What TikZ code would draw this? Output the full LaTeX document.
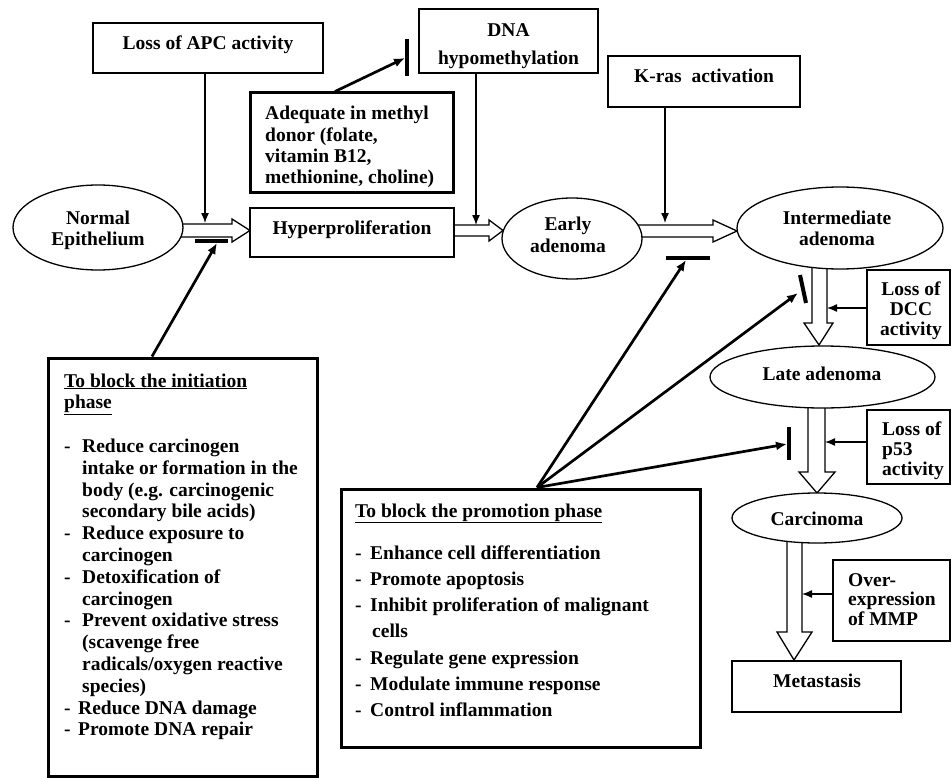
\documentclass[tikz,border=0pt]{standalone}
\usepackage{fontspec}
\setmainfont{Liberation Serif}
\usetikzlibrary{arrows.meta,backgrounds,shapes.geometric}
\newcommand{\lbl}[2]{\parbox[t]{#1}{#2}}
\begin{document}
\begin{tikzpicture}[x=1pt,y=-1pt,
  every node/.style={font=\fontsize{19.5}{21.8}\selectfont\bfseries},
  plainbox/.style={draw, line width=1.4pt, fill=white, inner sep=0},
  heavybox/.style={draw, line width=3pt, fill=white, inner sep=0},
  oval/.style={ellipse, draw, line width=1.3pt, fill=white, inner sep=0},
  txt/.style={inner sep=0, anchor=base, yshift=-2.5pt},
  ltxt/.style={inner sep=0, anchor=base west, yshift=-2.5pt},
  hollow/.style={draw, line width=1.3pt, fill=white, line join=miter},
  thinarrow/.style={line width=1.3pt, -{Latex[length=10pt,width=8pt]}},
  thickarrow/.style={line width=2.7pt, -{Latex[length=11pt,width=9pt]}},
  tbar/.style={line width=4pt}
]
\useasboundingbox (0,0) rectangle (952,778);

% boxes
\node[plainbox, minimum width=230, minimum height=50] (apc) at (208,48) {};
\node[txt] (apcL) at (208,47.5) {Loss of APC activity};

\node[plainbox, minimum width=179, minimum height=64] (dna) at (508.5,41) {};
\node[txt] (dnaL) at (508.5,34.5) {\lbl{180pt}{\centering\baselineskip=28pt DNA\\hypomethylation}};

\node[plainbox, minimum width=192, minimum height=51] (kras) at (704,81.5) {};
\node[txt] (krasL) at (704,80.5) {K-ras\ \ activation};

\node[heavybox, minimum width=203, minimum height=99] (adeq) at (351.5,142.5) {};
\node[ltxt] (adeqL) at (265,117.5) {\lbl{190pt}{\raggedright\baselineskip=21.3pt Adequate in methyl\\donor (folate,\\vitamin B12,\\methionine, choline)}};

\node[oval, minimum width=170, minimum height=85] (normal) at (98,227.5) {};
\node[txt] (normalL) at (98,221.5) {\lbl{160pt}{\centering\baselineskip=21pt Normal\\Epithelium}};

\node[plainbox, minimum width=204, minimum height=49] (hyper) at (352,232.5) {};
\node[txt] (hyperL) at (352,231.5) {Hyperproliferation};

\node[oval, minimum width=140, minimum height=81] (early) at (572,238.5) {};
\node[txt] (earlyL) at (568,227.5) {\lbl{130pt}{\centering\baselineskip=22pt Early\\adenoma}};

\node[oval, minimum width=206, minimum height=82] (inter) at (840,228) {};
\node[txt] (interL) at (837,221.5) {\lbl{190pt}{\centering\baselineskip=21pt Intermediate\\adenoma}};

\node[oval, minimum width=225, minimum height=62] (late) at (822.5,377) {};
\node[txt] (lateL) at (822,377.5) {Late adenoma};

\node[oval, minimum width=170, minimum height=50] (carc) at (817,518) {};
\node[txt] (carcL) at (817,522.5) {Carcinoma};

\node[plainbox, minimum width=83, minimum height=75] (dcc) at (908.5,307.5) {};
\node[txt] (dccL) at (911,292.5) {\lbl{80pt}{\centering\baselineskip=20pt Loss of\\DCC\\activity}};

\node[plainbox, minimum width=83, minimum height=74] (p53) at (908.5,447) {};
\node[ltxt] (p53L) at (882,432.5) {\lbl{70pt}{\raggedright\baselineskip=20pt Loss of\\p53\\activity}};

\node[plainbox, minimum width=117, minimum height=81] (mmp) at (891.5,600.5) {};
\node[ltxt] (mmpL) at (848,583.5) {\lbl{100pt}{\raggedright\baselineskip=19.5pt Over-\\expression\\of MMP}};

\node[plainbox, minimum width=169, minimum height=51] (meta) at (816.5,686.5) {};
\node[txt] (metaL) at (817,684.5) {Metastasis};

\node[heavybox, minimum width=269, minimum height=418] (init) at (182.5,567) {};
\node[ltxt] (initL) at (64,384.5) {\lbl{250pt}{\raggedright\baselineskip=21.8pt
\underline{To block the initiation}\\
\underline{phase}\\[21.8pt]
\makebox[18pt][l]{-}Reduce carcinogen\\
\hspace*{18pt}intake or formation in the\\
\hspace*{18pt}body (e.g. carcinogenic\\
\hspace*{18pt}secondary bile acids)\\
\makebox[18pt][l]{-}Reduce exposure to\\
\hspace*{18pt}carcinogen\\
\makebox[18pt][l]{-}Detoxification of\\
\hspace*{18pt}carcinogen\\
\makebox[18pt][l]{-}Prevent oxidative stress\\
\hspace*{18pt}(scavenge free\\
\hspace*{18pt}radicals/oxygen reactive\\
\hspace*{18pt}species)\\
\makebox[14pt][l]{-}Reduce DNA damage\\
\makebox[14pt][l]{-}Promote DNA repair}};

\node[heavybox, minimum width=359, minimum height=258] (promo) at (520.5,618) {};
\node[ltxt] (promoL) at (355,514.5) {\lbl{340pt}{\raggedright\baselineskip=26.3pt
\underline{To block the promotion phase}\\[15.7pt]
\makebox[15pt][l]{-}Enhance cell differentiation\\
\makebox[15pt][l]{-}Promote apoptosis\\
\makebox[15pt][l]{-}Inhibit proliferation of malignant\\
\hspace*{17pt}cells\\
\makebox[15pt][l]{-}Regulate gene expression\\
\makebox[15pt][l]{-}Modulate immune response\\
\makebox[15pt][l]{-}Control inflammation}};

% hollow block arrows
\begin{scope}[on background layer]
\fill[white] (0,0) rectangle (952,778);
\draw[hollow] (175,224) -- (232,224) -- (232,219) -- (250,230.5) -- (232,242) -- (232,237) -- (175,237) -- cycle;
\draw[hollow] (450,225) -- (489,225) -- (489,220) -- (503,230.5) -- (489,241) -- (489,236) -- (450,236) -- cycle;
\draw[hollow] (636,225) -- (713,225) -- (713,220) -- (737,231) -- (713,242) -- (713,237) -- (636,237) -- cycle;
\draw[hollow] (812,262) -- (812,323) -- (804,323) -- (819,345) -- (833,323) -- (827,323) -- (827,262) -- cycle;
\draw[hollow] (808,400) -- (808,472) -- (799,472) -- (817,493) -- (835,472) -- (825,472) -- (825,400) -- cycle;
\draw[hollow] (787,535) -- (787,632) -- (777,632) -- (794,660) -- (812,632) -- (802,632) -- (802,535) -- cycle;
\end{scope}

% thin arrows
\coordinate (apcTip) at (205,223);
\coordinate (dnaTip) at (476,225);
\coordinate (krasTip) at (665,223);
\coordinate (dccTip) at (827,308);
\coordinate (p53Tip) at (825,442);
\coordinate (mmpTip) at (802,594);
\draw[thinarrow] (apc.south -| apcTip) -- (apcTip);
\draw[thinarrow] (dna.south -| dnaTip) -- (dnaTip);
\draw[thinarrow] (kras.south -| krasTip) -- (krasTip);
\draw[thinarrow] (dcc.west |- dccTip) -- (dccTip);
\draw[thinarrow] (p53.west |- p53Tip) -- (p53Tip);
\draw[thinarrow] (mmp.west |- mmpTip) -- (mmpTip);

% inhibition arrows
\coordinate (i1) at (152,0);
\coordinate (b1) at (217,243);
\draw[tbar] (195,241) -- (228,241);
\draw[thickarrow] (init.north -| i1) -- (b1);

\coordinate (a1) at (335,0);
\coordinate (b2) at (405,58);
\draw[tbar] (407,39) -- (407,76);
\draw[thickarrow] (adeq.north -| a1) -- (b2);

\coordinate (p0) at (537,0);
\coordinate (b3) at (686,260);
\coordinate (b4) at (798,293);
\coordinate (b5) at (787,444);
\draw[tbar] (666,258) -- (710,258);
\draw[tbar] (800,275) -- (806,303);
\draw[tbar] (789,427) -- (789,460);
\draw[thickarrow] (promo.north -| p0) -- (b3);
\draw[thickarrow] (promo.north -| p0) -- (b4);
\draw[thickarrow] (promo.north -| p0) -- (b5);
\end{tikzpicture}
\end{document}
